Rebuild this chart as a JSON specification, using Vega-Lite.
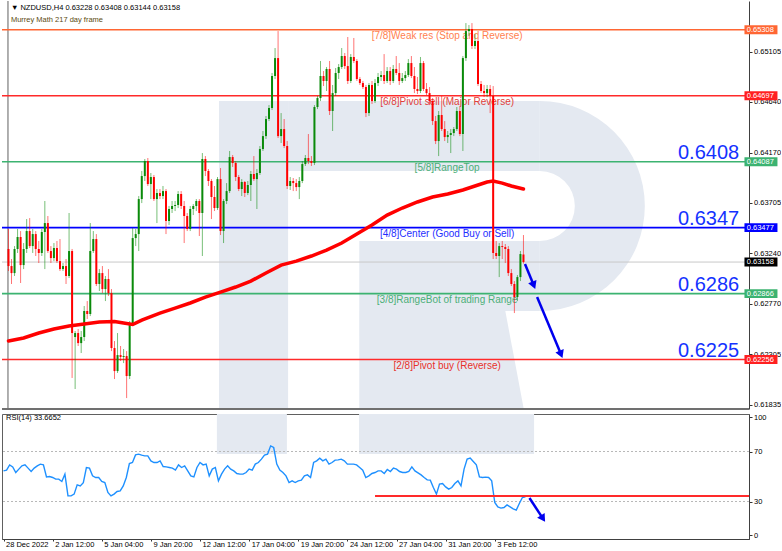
{
"$schema":"https://vega.github.io/schema/vega-lite/v6.json",
"padding":0,
"background":"#ffffff",
"spacing":2,
"config":{
 "font":"Liberation Sans",
 "view":{"stroke":null},
 "axis":{"labelFont":"Liberation Sans","labelFontSize":7.5,"labelColor":"#000000","tickColor":"#333333","domainColor":"#404040","grid":false,"tickSize":3,"labelPadding":1.5}
},
"datasets":{
"one":[{"k":0}],
"leg":[{"i":115.8,"t":0.62705,"b":0.617979},{"i":164,"t":0.62705,"b":0.617979},{"i":170.1,"t":0.617979,"b":0.617979}],
"bars":[
{"i":0,"o":0.63279,"h":0.63464,"l":0.63075,"c":0.63121,"r":54.5},
{"i":1,"o":0.63121,"h":0.63186,"l":0.62955,"c":0.63056,"r":55.1},
{"i":2,"o":0.63056,"h":0.63306,"l":0.63029,"c":0.63279,"r":59.3},
{"i":3,"o":0.63279,"h":0.63464,"l":0.63242,"c":0.6339,"r":57.7},
{"i":4,"o":0.6339,"h":0.63445,"l":0.62964,"c":0.6313,"r":53.2},
{"i":5,"o":0.6313,"h":0.63334,"l":0.63093,"c":0.63279,"r":55.9},
{"i":6,"o":0.63279,"h":0.63556,"l":0.63242,"c":0.63445,"r":58.5},
{"i":7,"o":0.63445,"h":0.63565,"l":0.63288,"c":0.63306,"r":59.3},
{"i":8,"o":0.63306,"h":0.63464,"l":0.63242,"c":0.63417,"r":56.7},
{"i":9,"o":0.63417,"h":0.63445,"l":0.63214,"c":0.63279,"r":54},
{"i":10,"o":0.63279,"h":0.63353,"l":0.63149,"c":0.63242,"r":56.7},
{"i":11,"o":0.63242,"h":0.63464,"l":0.63214,"c":0.63436,"r":58.5},
{"i":12,"o":0.63436,"h":0.63723,"l":0.63093,"c":0.63519,"r":59.9},
{"i":13,"o":0.63519,"h":0.63584,"l":0.63242,"c":0.6326,"r":59.3},
{"i":14,"o":0.6326,"h":0.63306,"l":0.63149,"c":0.63195,"r":49.7},
{"i":15,"o":0.63195,"h":0.63334,"l":0.63167,"c":0.63288,"r":50},
{"i":16,"o":0.63288,"h":0.63353,"l":0.63149,"c":0.63167,"r":49.2},
{"i":17,"o":0.63167,"h":0.63371,"l":0.63075,"c":0.63093,"r":47.9},
{"i":18,"o":0.63093,"h":0.63149,"l":0.63075,"c":0.63121,"r":47.9},
{"i":19,"o":0.63121,"h":0.63186,"l":0.62955,"c":0.63029,"r":46},
{"i":20,"o":0.63029,"h":0.63612,"l":0.6301,"c":0.6326,"r":51.9},
{"i":21,"o":0.6326,"h":0.63279,"l":0.62085,"c":0.62501,"r":34.5},
{"i":22,"o":0.62464,"h":0.6252,"l":0.61983,"c":0.62501,"r":34.5},
{"i":23,"o":0.62501,"h":0.62538,"l":0.62381,"c":0.62408,"r":35.9},
{"i":24,"o":0.62408,"h":0.6252,"l":0.62316,"c":0.62464,"r":43.3},
{"i":25,"o":0.62464,"h":0.62751,"l":0.62427,"c":0.62705,"r":42.5},
{"i":26,"o":0.62705,"h":0.62797,"l":0.62631,"c":0.62677,"r":45},
{"i":27,"o":0.62677,"h":0.63519,"l":0.62658,"c":0.6326,"r":57.2},
{"i":28,"o":0.6326,"h":0.63445,"l":0.63242,"c":0.63371,"r":56.7},
{"i":29,"o":0.63371,"h":0.63417,"l":0.62936,"c":0.62955,"r":50.5},
{"i":30,"o":0.62955,"h":0.63093,"l":0.6289,"c":0.63056,"r":49.2},
{"i":31,"o":0.63056,"h":0.63121,"l":0.62871,"c":0.62908,"r":49.2},
{"i":32,"o":0.62908,"h":0.63029,"l":0.62797,"c":0.63001,"r":46},
{"i":33,"o":0.63001,"h":0.63093,"l":0.62844,"c":0.62871,"r":45.2},
{"i":34,"o":0.62871,"h":0.62908,"l":0.62334,"c":0.62362,"r":37.2},
{"i":35,"o":0.62362,"h":0.62427,"l":0.62075,"c":0.62149,"r":34.5},
{"i":36,"o":0.62149,"h":0.62501,"l":0.62131,"c":0.62297,"r":35.9},
{"i":37,"o":0.62297,"h":0.62381,"l":0.62242,"c":0.62279,"r":38},
{"i":38,"o":0.62279,"h":0.62353,"l":0.62223,"c":0.62288,"r":38.5},
{"i":39,"o":0.62288,"h":0.62334,"l":0.61899,"c":0.62103,"r":42.5},
{"i":40,"o":0.62103,"h":0.62612,"l":0.62075,"c":0.62584,"r":49.2},
{"i":41,"o":0.62584,"h":0.63473,"l":0.62566,"c":0.6338,"r":60.4},
{"i":42,"o":0.6338,"h":0.63464,"l":0.63306,"c":0.63417,"r":61.2},
{"i":43,"o":0.63417,"h":0.63769,"l":0.6326,"c":0.63741,"r":67.3},
{"i":44,"o":0.63741,"h":0.64001,"l":0.63704,"c":0.63954,"r":67.9},
{"i":45,"o":0.63954,"h":0.64112,"l":0.63908,"c":0.64093,"r":67.1},
{"i":46,"o":0.64093,"h":0.64121,"l":0.63862,"c":0.6388,"r":66.5},
{"i":47,"o":0.6388,"h":0.63982,"l":0.63741,"c":0.63945,"r":66.5},
{"i":48,"o":0.63945,"h":0.63964,"l":0.63723,"c":0.63741,"r":62.5},
{"i":49,"o":0.63741,"h":0.63834,"l":0.63519,"c":0.63797,"r":61.2},
{"i":50,"o":0.63797,"h":0.63834,"l":0.63741,"c":0.63769,"r":61.2},
{"i":51,"o":0.63769,"h":0.63862,"l":0.63741,"c":0.63815,"r":62.5},
{"i":52,"o":0.63815,"h":0.63834,"l":0.63417,"c":0.63538,"r":58},
{"i":53,"o":0.63538,"h":0.63677,"l":0.63501,"c":0.63649,"r":57.7},
{"i":54,"o":0.63649,"h":0.63723,"l":0.63612,"c":0.63677,"r":57.2},
{"i":55,"o":0.63677,"h":0.63723,"l":0.6363,"c":0.63686,"r":56.7},
{"i":56,"o":0.63686,"h":0.63815,"l":0.63658,"c":0.63788,"r":55.1},
{"i":57,"o":0.63788,"h":0.63815,"l":0.63649,"c":0.63677,"r":59.3},
{"i":58,"o":0.63677,"h":0.63723,"l":0.63334,"c":0.63584,"r":57.2},
{"i":59,"o":0.63584,"h":0.63612,"l":0.63445,"c":0.63464,"r":58.5},
{"i":60,"o":0.63464,"h":0.63677,"l":0.63445,"c":0.63649,"r":54.5},
{"i":61,"o":0.63649,"h":0.63695,"l":0.63593,"c":0.63677,"r":50.5},
{"i":62,"o":0.63677,"h":0.63741,"l":0.6363,"c":0.63723,"r":49.7},
{"i":63,"o":0.63723,"h":0.63741,"l":0.63399,"c":0.63612,"r":57.2},
{"i":64,"o":0.63612,"h":0.64167,"l":0.63214,"c":0.64112,"r":61.2},
{"i":65,"o":0.64112,"h":0.64139,"l":0.63954,"c":0.64001,"r":59.3},
{"i":66,"o":0.64001,"h":0.64019,"l":0.63862,"c":0.63908,"r":59.9},
{"i":67,"o":0.63908,"h":0.63926,"l":0.63556,"c":0.6376,"r":50.5},
{"i":68,"o":0.6376,"h":0.63862,"l":0.6363,"c":0.63658,"r":55.9},
{"i":69,"o":0.63658,"h":0.63945,"l":0.6364,"c":0.63926,"r":57.2},
{"i":70,"o":0.63926,"h":0.64028,"l":0.63408,"c":0.63445,"r":46.5},
{"i":71,"o":0.63445,"h":0.63741,"l":0.63334,"c":0.63723,"r":51.9},
{"i":72,"o":0.63723,"h":0.63889,"l":0.63695,"c":0.63815,"r":55.9},
{"i":73,"o":0.63815,"h":0.64186,"l":0.63797,"c":0.6413,"r":58.5},
{"i":74,"o":0.6413,"h":0.64149,"l":0.64038,"c":0.64075,"r":55.9},
{"i":75,"o":0.64075,"h":0.64093,"l":0.63908,"c":0.63945,"r":54.5},
{"i":76,"o":0.63945,"h":0.63964,"l":0.63815,"c":0.63834,"r":52.4},
{"i":77,"o":0.63834,"h":0.63926,"l":0.63769,"c":0.63899,"r":51.9},
{"i":78,"o":0.63899,"h":0.63908,"l":0.6376,"c":0.63797,"r":51.9},
{"i":79,"o":0.63797,"h":0.63908,"l":0.63778,"c":0.63871,"r":53.2},
{"i":80,"o":0.63871,"h":0.64001,"l":0.63723,"c":0.63973,"r":55.9},
{"i":81,"o":0.63973,"h":0.64139,"l":0.63908,"c":0.63926,"r":55.1},
{"i":82,"o":0.63926,"h":0.64019,"l":0.63649,"c":0.63982,"r":59.9},
{"i":83,"o":0.63982,"h":0.64232,"l":0.63964,"c":0.64204,"r":61.2},
{"i":84,"o":0.64204,"h":0.64371,"l":0.64186,"c":0.64324,"r":63.9},
{"i":85,"o":0.64324,"h":0.6451,"l":0.64297,"c":0.64482,"r":67.1},
{"i":86,"o":0.64482,"h":0.64611,"l":0.64463,"c":0.64584,"r":67.9},
{"i":87,"o":0.64584,"h":0.64908,"l":0.64565,"c":0.6488,"r":74.5},
{"i":88,"o":0.6488,"h":0.65139,"l":0.64852,"c":0.65046,"r":73.2},
{"i":89,"o":0.65046,"h":0.65296,"l":0.64306,"c":0.64324,"r":59.9},
{"i":90,"o":0.64324,"h":0.64537,"l":0.6426,"c":0.64389,"r":55.1},
{"i":91,"o":0.64389,"h":0.64482,"l":0.64213,"c":0.64232,"r":53.2},
{"i":92,"o":0.64232,"h":0.64278,"l":0.63834,"c":0.63862,"r":50.5},
{"i":93,"o":0.63862,"h":0.63945,"l":0.63825,"c":0.63908,"r":45.2},
{"i":94,"o":0.63908,"h":0.63936,"l":0.63815,"c":0.63889,"r":46.5},
{"i":95,"o":0.63889,"h":0.63926,"l":0.63815,"c":0.63852,"r":45.2},
{"i":96,"o":0.63852,"h":0.63945,"l":0.63741,"c":0.63908,"r":46.5},
{"i":97,"o":0.63908,"h":0.64093,"l":0.63889,"c":0.64065,"r":47.1},
{"i":98,"o":0.64065,"h":0.64149,"l":0.64047,"c":0.64121,"r":50.5},
{"i":99,"o":0.64121,"h":0.64343,"l":0.64065,"c":0.64093,"r":51.3},
{"i":100,"o":0.64093,"h":0.64139,"l":0.64047,"c":0.64075,"r":49.2},
{"i":101,"o":0.64075,"h":0.64611,"l":0.64056,"c":0.64593,"r":61.2},
{"i":102,"o":0.64593,"h":0.64695,"l":0.64574,"c":0.64676,"r":62.5},
{"i":103,"o":0.64676,"h":0.65019,"l":0.64648,"c":0.6488,"r":64.7},
{"i":104,"o":0.6488,"h":0.64926,"l":0.64787,"c":0.64834,"r":62.5},
{"i":105,"o":0.64834,"h":0.64963,"l":0.64741,"c":0.64945,"r":63.9},
{"i":106,"o":0.64945,"h":0.65019,"l":0.64519,"c":0.64556,"r":59.9},
{"i":107,"o":0.64556,"h":0.64797,"l":0.64371,"c":0.64722,"r":61.2},
{"i":108,"o":0.64722,"h":0.64954,"l":0.64695,"c":0.64908,"r":63.1},
{"i":109,"o":0.64908,"h":0.64991,"l":0.64852,"c":0.64963,"r":63.3},
{"i":110,"o":0.64963,"h":0.65139,"l":0.64945,"c":0.65065,"r":63.9},
{"i":111,"o":0.65065,"h":0.65093,"l":0.64945,"c":0.64972,"r":62.5},
{"i":112,"o":0.64972,"h":0.65241,"l":0.64806,"c":0.64834,"r":59.9},
{"i":113,"o":0.64834,"h":0.65083,"l":0.64815,"c":0.65056,"r":59.9},
{"i":114,"o":0.65056,"h":0.65232,"l":0.65,"c":0.65019,"r":59.9},
{"i":115,"o":0.65019,"h":0.65037,"l":0.64834,"c":0.64852,"r":59.3},
{"i":116,"o":0.64852,"h":0.64871,"l":0.64797,"c":0.64815,"r":57.2},
{"i":117,"o":0.64815,"h":0.64834,"l":0.6476,"c":0.64778,"r":55.1},
{"i":118,"o":0.64778,"h":0.64797,"l":0.645,"c":0.64537,"r":49.2},
{"i":119,"o":0.64537,"h":0.64815,"l":0.6451,"c":0.64797,"r":50.5},
{"i":120,"o":0.64797,"h":0.64834,"l":0.64621,"c":0.64648,"r":52.4},
{"i":121,"o":0.64648,"h":0.64852,"l":0.6463,"c":0.64815,"r":53.2},
{"i":122,"o":0.64815,"h":0.64908,"l":0.64787,"c":0.64871,"r":54.5},
{"i":123,"o":0.64871,"h":0.64926,"l":0.64834,"c":0.64889,"r":54.5},
{"i":124,"o":0.64889,"h":0.65083,"l":0.64806,"c":0.64834,"r":52.4},
{"i":125,"o":0.64834,"h":0.64963,"l":0.64815,"c":0.64926,"r":55.6},
{"i":126,"o":0.64926,"h":0.64963,"l":0.64797,"c":0.64834,"r":54},
{"i":127,"o":0.64834,"h":0.64982,"l":0.64815,"c":0.64945,"r":56.7},
{"i":128,"o":0.64945,"h":0.65065,"l":0.64889,"c":0.64908,"r":55.9},
{"i":129,"o":0.64908,"h":0.65,"l":0.64797,"c":0.64834,"r":54},
{"i":130,"o":0.64834,"h":0.64908,"l":0.64815,"c":0.64861,"r":53.2},
{"i":131,"o":0.64861,"h":0.64926,"l":0.64834,"c":0.64889,"r":53.2},
{"i":132,"o":0.64889,"h":0.65037,"l":0.64871,"c":0.65,"r":54},
{"i":133,"o":0.65,"h":0.65065,"l":0.64861,"c":0.6488,"r":57.7},
{"i":134,"o":0.6488,"h":0.64963,"l":0.64722,"c":0.6476,"r":54.5},
{"i":135,"o":0.6476,"h":0.64871,"l":0.64713,"c":0.64741,"r":52.9},
{"i":136,"o":0.64741,"h":0.65056,"l":0.64722,"c":0.65,"r":51.3},
{"i":137,"o":0.65,"h":0.65019,"l":0.64741,"c":0.6476,"r":49.2},
{"i":138,"o":0.6476,"h":0.64815,"l":0.64704,"c":0.64722,"r":47.3},
{"i":139,"o":0.64722,"h":0.64778,"l":0.64611,"c":0.64648,"r":47.1},
{"i":140,"o":0.64648,"h":0.64676,"l":0.64426,"c":0.64463,"r":41.2},
{"i":141,"o":0.64463,"h":0.6451,"l":0.6425,"c":0.64278,"r":35.9},
{"i":142,"o":0.64278,"h":0.64556,"l":0.64139,"c":0.64519,"r":43.9},
{"i":143,"o":0.64519,"h":0.64695,"l":0.64371,"c":0.64389,"r":44.4},
{"i":144,"o":0.64389,"h":0.64463,"l":0.64278,"c":0.64315,"r":41.7},
{"i":145,"o":0.64315,"h":0.64371,"l":0.6426,"c":0.64334,"r":39.9},
{"i":146,"o":0.64334,"h":0.64389,"l":0.64167,"c":0.64352,"r":41.2},
{"i":147,"o":0.64352,"h":0.64408,"l":0.64324,"c":0.64389,"r":44.4},
{"i":148,"o":0.64389,"h":0.64593,"l":0.64371,"c":0.64556,"r":46.5},
{"i":149,"o":0.64556,"h":0.64593,"l":0.64324,"c":0.64343,"r":42.5},
{"i":150,"o":0.64343,"h":0.65065,"l":0.64186,"c":0.65046,"r":55.9},
{"i":151,"o":0.65046,"h":0.6537,"l":0.65019,"c":0.65296,"r":63.9},
{"i":152,"o":0.65296,"h":0.65352,"l":0.6525,"c":0.65315,"r":64.7},
{"i":153,"o":0.65315,"h":0.6537,"l":0.6513,"c":0.65158,"r":62},
{"i":154,"o":0.65158,"h":0.65269,"l":0.6513,"c":0.65204,"r":59.3},
{"i":155,"o":0.65204,"h":0.65222,"l":0.64787,"c":0.64806,"r":49.7},
{"i":156,"o":0.64806,"h":0.64834,"l":0.64722,"c":0.64741,"r":49.2},
{"i":157,"o":0.64741,"h":0.64797,"l":0.64685,"c":0.64722,"r":49.5},
{"i":158,"o":0.64722,"h":0.64797,"l":0.64685,"c":0.6476,"r":49.2},
{"i":159,"o":0.6476,"h":0.64797,"l":0.64537,"c":0.64695,"r":46.5},
{"i":160,"o":0.64695,"h":0.64787,"l":0.63186,"c":0.63242,"r":29.2},
{"i":161,"o":0.63242,"h":0.63353,"l":0.63186,"c":0.63214,"r":25.7},
{"i":162,"o":0.63214,"h":0.63334,"l":0.63019,"c":0.63306,"r":24.7},
{"i":163,"o":0.63306,"h":0.63353,"l":0.63186,"c":0.63297,"r":25.2},
{"i":164,"o":0.63297,"h":0.63325,"l":0.63149,"c":0.63279,"r":27.3},
{"i":165,"o":0.63279,"h":0.63306,"l":0.63029,"c":0.63056,"r":25.7},
{"i":166,"o":0.63056,"h":0.63093,"l":0.62936,"c":0.62955,"r":24.1},
{"i":167,"o":0.62955,"h":0.62982,"l":0.62686,"c":0.62834,"r":23.1},
{"i":168,"o":0.62834,"h":0.63038,"l":0.62797,"c":0.63019,"r":28.4},
{"i":169,"o":0.63019,"h":0.6326,"l":0.62982,"c":0.63232,"r":33.2},
{"i":170,"o":0.63228,"h":0.63408,"l":0.63144,"c":0.63158,"r":33.67}
],
"ma":[
{"i":0,"v":0.62427},{"i":5,"v":0.62455},{"i":10,"v":0.62501},{"i":15,"v":0.62538},{"i":20,"v":0.62566},{"i":25,"v":0.62584},{"i":30,"v":0.62603},{"i":35,"v":0.62608},{"i":38,"v":0.62594},{"i":41,"v":0.6258},{"i":44,"v":0.62621},{"i":50,"v":0.62686},{"i":55,"v":0.62732},{"i":60,"v":0.62779},{"i":65,"v":0.62834},{"i":70,"v":0.6288},{"i":75,"v":0.62927},{"i":80,"v":0.62982},{"i":85,"v":0.63056},{"i":90,"v":0.6313},{"i":95,"v":0.63167},{"i":100,"v":0.63214},{"i":105,"v":0.63269},{"i":110,"v":0.63334},{"i":115,"v":0.63417},{"i":120,"v":0.63501},{"i":125,"v":0.63593},{"i":130,"v":0.63658},{"i":135,"v":0.63714},{"i":140,"v":0.6376},{"i":145,"v":0.63788},{"i":150,"v":0.63825},{"i":155,"v":0.63871},{"i":158,"v":0.63899},{"i":160,"v":0.63908},{"i":163,"v":0.63889},{"i":166,"v":0.63862},{"i":170,"v":0.63834}
],
"levels":[
{"level":"7/8","price":0.65308,"label":"[7/8]Weak res (Stop and Reverse)"},
{"level":"6/8","price":0.64697,"label":"[6/8]Pivot sell (Major Reverse)"},
{"level":"5/8","price":0.64087,"label":"[5/8]RangeTop"},
{"level":"4/8","price":0.63477,"label":"[4/8]Center (Good Buy or Sell)"},
{"level":"3/8","price":0.62866,"label":"[3/8]RangeBot of trading Range"},
{"level":"2/8","price":0.62256,"label":"[2/8]Pivot buy (Reverse)"}
],
"big":[
{"price":0.64087,"txt":"0.6408"},
{"price":0.63477,"txt":"0.6347"},
{"price":0.62866,"txt":"0.6286"},
{"price":0.62256,"txt":"0.6225"}
],
"tags":[
{"kind":"7/8","price":0.65308},
{"kind":"6/8","price":0.64697},
{"kind":"5/8","price":0.64087},
{"kind":"4/8","price":0.63477},
{"kind":"cur","price":0.63158},
{"kind":"3/8","price":0.62866},
{"kind":"2/8","price":0.62256}
],
"arrows":[
{"a":"a1","i":170.5,"p":0.6314},
{"a":"a1","i":173.4,"p":0.62943},
{"a":"a2","i":174.5,"p":0.62834},
{"a":"a2","i":182.4,"p":0.62304}
],
"heads":[
{"i":173.4,"p":0.62943},
{"i":182.4,"p":0.62304}
],
"rsiArrow":[
{"i":171.3,"v":32.8},
{"i":175.7,"v":16.3}
]
},
"vconcat":[
{
"width":747,"height":408,
"resolve":{"scale":{"color":"independent"}},
"layer":[
{"data":{"name":"one"},"mark":{"type":"rect","color":"#e4e9f1"},"encoding":{"x":{"datum":69.5,"type":"quantitative","scale":{"domain":[-0.49,242.8],"nice":false,"zero":false},"axis":null},"x2":{"datum":92.3},"y":{"datum":0.646487,"type":"quantitative","scale":{"domain":[0.617979,0.655743],"nice":false,"zero":false},"title":null},"y2":{"datum":0.617979}}},
{"data":{"name":"one"},"mark":{"type":"rect","color":"#e4e9f1"},"encoding":{"x":{"datum":92.3,"type":"quantitative","axis":null},"x2":{"datum":175.4},"y":{"datum":0.646487,"type":"quantitative","title":null},"y2":{"datum":0.640008}}},
{"data":{"name":"one"},"mark":{"type":"rect","color":"#e4e9f1"},"encoding":{"x":{"datum":115.8,"type":"quantitative","axis":null},"x2":{"datum":175.4},"y":{"datum":0.633529,"type":"quantitative","title":null},"y2":{"datum":0.62705}}},
{"data":{"name":"leg"},"mark":{"type":"area","color":"#e4e9f1","opacity":1},"encoding":{"x":{"field":"i","type":"quantitative","axis":null},"y":{"field":"t","type":"quantitative","title":null},"y2":{"field":"b"}}},
{"data":{"name":"one"},"mark":{"type":"arc","color":"#e4e9f1","radius":105,"radius2":35,"theta":0,"theta2":3.14159},"encoding":{"x":{"datum":175.4,"type":"quantitative","axis":null},"y":{"datum":0.636769,"type":"quantitative","title":null}}},
{"data":{"name":"one"},"mark":{"type":"rule","color":"#c8c8c8","strokeWidth":1},"encoding":{"y":{"datum":0.63158,"type":"quantitative","title":null}}},
{"data":{"name":"one"},"mark":{"type":"rule","color":"#606060","strokeWidth":1},"encoding":{"x":{"datum":-0.17,"type":"quantitative","axis":null}}},
{"data":{"name":"one"},"mark":{"type":"rule","color":"#707070","strokeWidth":2},"encoding":{"y":{"datum":0.617979,"type":"quantitative","title":null}}},
{"data":{"name":"levels"},"mark":{"type":"rule","strokeWidth":1.6},"encoding":{"y":{"field":"price","type":"quantitative","scale":{"domain":[0.617979,0.655743],"nice":false,"zero":false},"axis":{"title":null,"orient":"right","values":[0.6534,0.65105,0.64875,0.6464,0.64405,0.6417,0.6394,0.63705,0.6347,0.6324,0.63005,0.6277,0.62535,0.62305,0.6207,0.61835],"format":".5f","labelBaseline":"middle","labelAlign":"left","domain":true,"labelOverlap":false}},"color":{"field":"level","type":"nominal","scale":{"domain":["7/8","6/8","5/8","4/8","3/8","2/8"],"range":["#ff6633","#ff2a2a","#3cb371","#0000ff","#3cb371","#ff2a2a"]},"legend":null}}},
{"data":{"name":"levels"},"mark":{"type":"text","fontSize":10,"baseline":"top","align":"center","dy":1},"encoding":{"x":{"datum":144.8,"type":"quantitative","axis":null},"y":{"field":"price","type":"quantitative","title":null},"text":{"field":"label"},"color":{"field":"level","type":"nominal","scale":{"domain":["7/8","6/8","5/8","4/8","3/8","2/8"],"range":["#ff7f50","#e0403a","#4caf78","#1f2fff","#4caf78","#e8302a"]},"legend":null}}},
{"data":{"name":"bars"},"mark":{"type":"rule","strokeWidth":1,"opacity":0.55},"encoding":{"x":{"field":"i","type":"quantitative","axis":null},"y":{"field":"l","type":"quantitative","title":null},"y2":{"field":"h"},"color":{"condition":{"test":"datum.c >= datum.o","value":"#0a8a0a"},"value":"#ff0000"}}},
{"data":{"name":"bars"},"mark":{"type":"bar","width":2},"encoding":{"x":{"field":"i","type":"quantitative","axis":null},"y":{"field":"o","type":"quantitative","title":null},"y2":{"field":"c"},"color":{"condition":{"test":"datum.c >= datum.o","value":"#0a8a0a"},"value":"#ff0000"}}},
{"data":{"name":"ma"},"mark":{"type":"line","color":"#ff0000","strokeWidth":3.5,"strokeCap":"round"},"encoding":{"x":{"field":"i","type":"quantitative","axis":null},"y":{"field":"v","type":"quantitative","title":null}}},
{"data":{"name":"arrows"},"mark":{"type":"line","color":"#0000ee","strokeWidth":2.5},"encoding":{"x":{"field":"i","type":"quantitative","axis":null},"y":{"field":"p","type":"quantitative","title":null},"detail":{"field":"a"}}},
{"data":{"name":"heads"},"mark":{"type":"point","shape":"triangle-up","filled":true,"size":80,"angle":158,"color":"#0000ee","opacity":1},"encoding":{"x":{"field":"i","type":"quantitative","axis":null},"y":{"field":"p","type":"quantitative","title":null}}},
{"data":{"name":"big"},"mark":{"type":"text","fontSize":20,"align":"right","baseline":"alphabetic","dy":-3,"color":"#1432ff"},"encoding":{"x":{"datum":241.2,"type":"quantitative","axis":null},"y":{"field":"price","type":"quantitative","title":null},"text":{"field":"txt"}}},
{"data":{"name":"tags"},"mark":{"type":"point","shape":"M-1,-0.27H1V0.27H-1Z","filled":true,"size":1089,"opacity":1},"encoding":{"x":{"datum":248.4,"type":"quantitative","axis":null},"y":{"field":"price","type":"quantitative","title":null},"color":{"field":"kind","type":"nominal","scale":{"domain":["7/8","6/8","5/8","4/8","cur","3/8","2/8"],"range":["#ff6633","#ff2020","#3cb371","#0000ff","#000000","#3cb371","#ff2020"]},"legend":null}}},
{"data":{"name":"tags"},"mark":{"type":"text","fontSize":7.5,"align":"left","baseline":"middle","color":"#ffffff"},"encoding":{"x":{"datum":243.7,"type":"quantitative","axis":null},"y":{"field":"price","type":"quantitative","title":null},"text":{"field":"price","format":".5f"}}},
{"data":{"name":"one"},"mark":{"type":"text","fontSize":7.5,"align":"left","baseline":"middle","color":"#000000","text":"▼ NZDUSD,H4  0.63228 0.63408 0.63144 0.63158"},"encoding":{"x":{"datum":0.8,"type":"quantitative","axis":null},"y":{"datum":0.655092,"type":"quantitative","title":null}}},
{"data":{"name":"one"},"mark":{"type":"text","fontSize":7.5,"align":"left","baseline":"middle","color":"#5c4a10","text":"Murrey Math 217 day frame"},"encoding":{"x":{"datum":0.8,"type":"quantitative","axis":null},"y":{"datum":0.653994,"type":"quantitative","title":null}}}
]
},
{
"width":747,"height":125,
"view":{"stroke":"#606060"},
"layer":[
{"data":{"name":"one"},"mark":{"type":"rect","color":"#e4e9f1"},"encoding":{"x":{"datum":69.5,"type":"quantitative","scale":{"domain":[-0.49,242.8],"nice":false,"zero":false},"title":null},"x2":{"datum":92.3},"y":{"datum":68,"type":"quantitative","scale":{"domain":[0,100],"nice":false},"title":null},"y2":{"datum":100}}},
{"data":{"name":"one"},"mark":{"type":"rect","color":"#e4e9f1"},"encoding":{"x":{"datum":115.8,"type":"quantitative","title":null},"x2":{"datum":172.8},"y":{"datum":68,"type":"quantitative","title":null},"y2":{"datum":100}}},
{"data":{"values":[{"lv":30},{"lv":70}]},"mark":{"type":"rule","color":"#b8b8b8","strokeDash":[2,2],"strokeWidth":1},"encoding":{"y":{"field":"lv","type":"quantitative","title":null}}},
{"data":{"name":"bars"},"mark":{"type":"line","color":"#1e90ff","strokeWidth":1.4},"encoding":{"x":{"field":"i","type":"quantitative","scale":{"domain":[-0.49,242.8],"nice":false,"zero":false},"axis":{"title":null,"orient":"bottom","values":[0,16,32,48,64,80,96,112,128,144,160],"labelExpr":"['28 Dec 2022','2 Jan 12:00','5 Jan 04:00','9 Jan 20:00','12 Jan 12:00','17 Jan 04:00','19 Jan 20:00','24 Jan 12:00','27 Jan 04:00','31 Jan 20:00','3 Feb 12:00'][round(datum.value/16)]","labelAlign":"left","labelFlush":false,"labelOverlap":false,"tickSize":2,"labelPadding":-1,"labelOffset":2,"domain":true}},"y":{"field":"r","type":"quantitative","scale":{"domain":[0,100],"nice":false},"axis":{"title":null,"orient":"right","values":[3.2,30,70,97.6],"labelExpr":"datum.value < 5 ? '0' : (datum.value > 90 ? '100' : (datum.value > 50 ? '70' : '30'))","labelBaseline":"middle","labelAlign":"left","domain":true,"labelOverlap":false}}}},
{"data":{"name":"one"},"mark":{"type":"rule","color":"#ff2a2a","strokeWidth":2},"encoding":{"x":{"datum":121,"type":"quantitative","title":null},"x2":{"datum":242.8},"y":{"datum":34.5,"type":"quantitative","title":null}}},
{"data":{"name":"rsiArrow"},"mark":{"type":"line","color":"#0000ee","strokeWidth":2.5},"encoding":{"x":{"field":"i","type":"quantitative","title":null},"y":{"field":"v","type":"quantitative","title":null}}},
{"data":{"name":"one"},"mark":{"type":"point","shape":"triangle-up","filled":true,"size":80,"angle":147,"color":"#0000ee","opacity":1},"encoding":{"x":{"datum":175.7,"type":"quantitative","title":null},"y":{"datum":16.3,"type":"quantitative","title":null}}},
{"data":{"name":"one"},"mark":{"type":"text","fontSize":7.5,"align":"left","baseline":"middle","color":"#000000","text":"RSI(14) 33.6652"},"encoding":{"x":{"datum":0.8,"type":"quantitative","title":null},"y":{"datum":96.8,"type":"quantitative","title":null}}}
]
}
]
}
